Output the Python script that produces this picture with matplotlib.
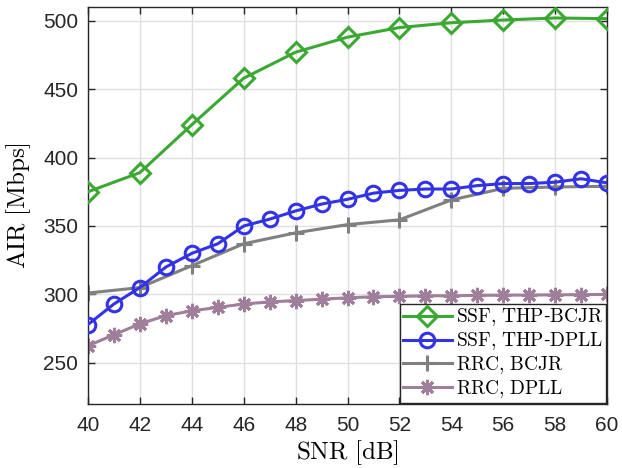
import numpy as np
import matplotlib
matplotlib.use("Agg")
import matplotlib.pyplot as plt

plt.rcParams["mathtext.fontset"] = "cm"
plt.rcParams["font.family"] = ["Liberation Sans", "DejaVu Sans"]

# SNR grids
snr_2 = np.arange(40, 61, 2)
snr_1 = np.arange(40, 61, 1)

# AIR values in Mbps
ssf_bcjr = [375, 389, 424, 458, 477, 488, 495, 498.5, 500.5, 502, 501.5]
ssf_dpll = [278, 293, 305, 320, 330, 337, 350, 355, 361, 366, 369.5,
            374, 376, 377, 377, 379.5, 381, 381, 382, 384.5, 381.5]
rrc_bcjr = [301, 305, 321, 337, 345, 351, 354.5, 369, 377.5, 378.5, 379]
rrc_dpll = [262.5, 270.5, 278.5, 284.5, 288, 290.5, 293, 294.5, 295.5, 296.5, 297.5,
            298.3, 298.5, 299, 299, 299.3, 299.5, 299.5, 299.7, 299.8, 300]

labels = [r"$\mathrm{SSF{,}\ THP}$-$\mathrm{BCJR}$", r"$\mathrm{SSF{,}\ THP}$-$\mathrm{DPLL}$",
          r"$\mathrm{RRC{,}\ BCJR}$", r"$\mathrm{RRC{,}\ DPLL}$"]

fig = plt.figure(figsize=(6.22, 4.68), dpi=100)
ax = fig.add_axes([0.1415, 0.137, 0.8345, 0.848])

ax.plot(snr_2, ssf_bcjr, color="#3aa832", lw=2.2, marker="D", ms=10,
        mfc="none", mew=2.2, label=labels[0], zorder=4)
ax.plot(snr_1, ssf_dpll, color="#3333e6", lw=2.2, marker="o", ms=10.5,
        mfc="none", mew=2.2, label=labels[1], zorder=3)
ax.plot(snr_2, rrc_bcjr, color="#808080", lw=2.2, marker="+", ms=12,
        mew=2.2, label=labels[2], zorder=2)
ax.plot(snr_1, rrc_dpll, color="#a07f9a", lw=2.2, marker=(8, 2, 0), ms=11,
        mew=2.2, label=labels[3], zorder=2)

ax.set_xlim(40, 60)
ax.set_ylim(220, 510)
ax.set_xticks(np.arange(40, 61, 2))
ax.set_yticks([250, 300, 350, 400, 450, 500])
ax.tick_params(direction="in", top=True, right=True, labelsize=15,
               colors="#262626", length=5, width=1)
ax.tick_params(axis="x", pad=9)
ax.tick_params(axis="y", pad=7)
ax.grid(True, color="#e0e0e0", lw=1)
ax.set_axisbelow(True)
for s in ax.spines.values():
    s.set_color("#262626")
    s.set_linewidth(1)

ax.set_xlabel(r"$\mathrm{SNR\ [dB]}$", fontsize=18, labelpad=2)
ax.set_ylabel(r"$\mathrm{AIR\ [Mbps]}$", fontsize=18, labelpad=7)

leg = ax.legend(loc="lower right", fontsize=14, handlelength=2.5,
                fancybox=False, framealpha=1, edgecolor="#262626",
                borderaxespad=0.05, borderpad=0.15, labelspacing=0.1,
                handletextpad=0.2)
leg.get_frame().set_linewidth(1)

fig.savefig("out.png", dpi=100)
